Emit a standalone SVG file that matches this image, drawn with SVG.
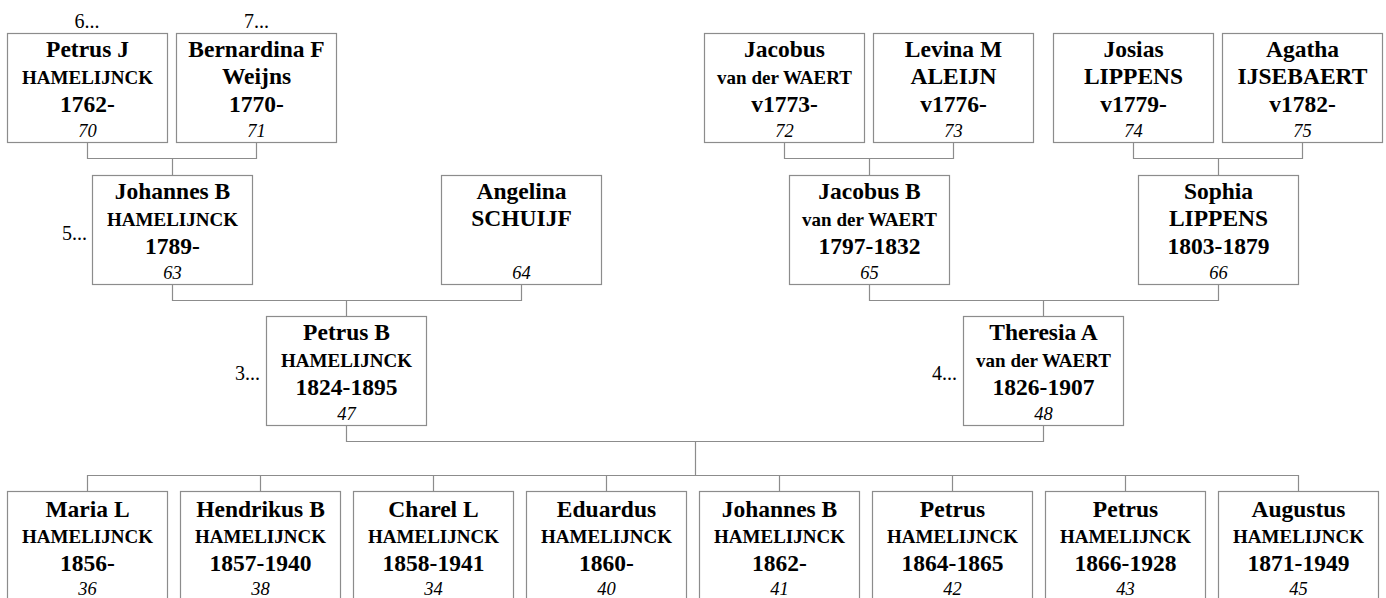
<svg xmlns="http://www.w3.org/2000/svg" width="1386" height="598" viewBox="0 0 1386 598">
<defs>
<style>
.box{fill:#fff;stroke:#8c8c8c;stroke-width:1.2}
.ln{fill:none;stroke:#8c8c8c;stroke-width:1.2}
</style>
</defs>
<rect width="1386" height="598" fill="#fff"/>
<g id="connectors">
<path class="ln" d="M87.5,142.5V158.5H256.5V142.5M172.5,158.5V175.5"/>
<path class="ln" d="M784.5,142.5V158.5H953.5V142.5M869.5,158.5V175.5"/>
<path class="ln" d="M1133.5,142.5V158.5H1302.5V142.5M1218.5,158.5V175.5"/>
<path class="ln" d="M172.5,284.5V300.5H521.5V284.5M346.5,300.5V316.5"/>
<path class="ln" d="M869.5,284.5V300.5H1218.5V284.5M1043.5,300.5V316.5"/>
<path class="ln" d="M346.5,425.5V441.5H1043.5V425.5M695.5,441.5V475.5"/>
<path class="ln" d="M87.5,491.5V475.5H1298.5V491.5M260.5,475.5V491.5M433.5,475.5V491.5M606.5,475.5V491.5M779.5,475.5V491.5M952.5,475.5V491.5M1125.5,475.5V491.5"/>
</g>
<g id="labels">
<text font-family="Liberation Serif" font-size="20" text-anchor="middle" x="87" y="28">6...</text>
<text font-family="Liberation Serif" font-size="20" text-anchor="middle" x="256.5" y="28">7...</text>
<text font-family="Liberation Serif" font-size="20" text-anchor="end" x="87" y="240">5...</text>
<text font-family="Liberation Serif" font-size="20" text-anchor="end" x="260" y="380">3...</text>
<text font-family="Liberation Serif" font-size="20" text-anchor="end" x="957" y="380">4...</text>
</g>
<g id="n70"><rect class="box" x="7.5" y="33.5" width="160" height="109"/><text font-family="Liberation Serif" text-anchor="middle" font-weight="bold" font-size="23.5" x="87.5" y="57">Petrus J</text><text font-family="Liberation Serif" text-anchor="middle" font-weight="bold" font-size="19" x="87.5" y="84">HAMELIJNCK</text><text font-family="Liberation Serif" text-anchor="middle" font-weight="bold" font-size="23.5" x="87.5" y="111.5">1762-</text><text font-family="Liberation Serif" text-anchor="middle" font-style="italic" font-size="18.5" x="87.5" y="137">70</text></g>
<g id="n71"><rect class="box" x="176.5" y="33.5" width="160" height="109"/><text font-family="Liberation Serif" text-anchor="middle" font-weight="bold" font-size="23.5" x="256.5" y="57">Bernardina F</text><text font-family="Liberation Serif" text-anchor="middle" font-weight="bold" font-size="23.5" x="256.5" y="84">Weijns</text><text font-family="Liberation Serif" text-anchor="middle" font-weight="bold" font-size="23.5" x="256.5" y="111.5">1770-</text><text font-family="Liberation Serif" text-anchor="middle" font-style="italic" font-size="18.5" x="256.5" y="137">71</text></g>
<g id="n72"><rect class="box" x="704.5" y="33.5" width="160" height="109"/><text font-family="Liberation Serif" text-anchor="middle" font-weight="bold" font-size="23.5" x="784.5" y="57">Jacobus</text><text font-family="Liberation Serif" text-anchor="middle" font-weight="bold" font-size="19" x="784.5" y="84">van der WAERT</text><text font-family="Liberation Serif" text-anchor="middle" font-weight="bold" font-size="23.5" x="784.5" y="111.5">v1773-</text><text font-family="Liberation Serif" text-anchor="middle" font-style="italic" font-size="18.5" x="784.5" y="137">72</text></g>
<g id="n73"><rect class="box" x="873.5" y="33.5" width="160" height="109"/><text font-family="Liberation Serif" text-anchor="middle" font-weight="bold" font-size="23.5" x="953.5" y="57">Levina M</text><text font-family="Liberation Serif" text-anchor="middle" font-weight="bold" font-size="23.5" x="953.5" y="84">ALEIJN</text><text font-family="Liberation Serif" text-anchor="middle" font-weight="bold" font-size="23.5" x="953.5" y="111.5">v1776-</text><text font-family="Liberation Serif" text-anchor="middle" font-style="italic" font-size="18.5" x="953.5" y="137">73</text></g>
<g id="n74"><rect class="box" x="1053.5" y="33.5" width="160" height="109"/><text font-family="Liberation Serif" text-anchor="middle" font-weight="bold" font-size="23.5" x="1133.5" y="57">Josias</text><text font-family="Liberation Serif" text-anchor="middle" font-weight="bold" font-size="23.5" x="1133.5" y="84">LIPPENS</text><text font-family="Liberation Serif" text-anchor="middle" font-weight="bold" font-size="23.5" x="1133.5" y="111.5">v1779-</text><text font-family="Liberation Serif" text-anchor="middle" font-style="italic" font-size="18.5" x="1133.5" y="137">74</text></g>
<g id="n75"><rect class="box" x="1222.5" y="33.5" width="160" height="109"/><text font-family="Liberation Serif" text-anchor="middle" font-weight="bold" font-size="23.5" x="1302.5" y="57">Agatha</text><text font-family="Liberation Serif" text-anchor="middle" font-weight="bold" font-size="23.5" x="1302.5" y="84">IJSEBAERT</text><text font-family="Liberation Serif" text-anchor="middle" font-weight="bold" font-size="23.5" x="1302.5" y="111.5">v1782-</text><text font-family="Liberation Serif" text-anchor="middle" font-style="italic" font-size="18.5" x="1302.5" y="137">75</text></g>
<g id="n63"><rect class="box" x="92.5" y="175.5" width="160" height="109"/><text font-family="Liberation Serif" text-anchor="middle" font-weight="bold" font-size="23.5" x="172.5" y="199">Johannes B</text><text font-family="Liberation Serif" text-anchor="middle" font-weight="bold" font-size="19" x="172.5" y="226">HAMELIJNCK</text><text font-family="Liberation Serif" text-anchor="middle" font-weight="bold" font-size="23.5" x="172.5" y="253.5">1789-</text><text font-family="Liberation Serif" text-anchor="middle" font-style="italic" font-size="18.5" x="172.5" y="279">63</text></g>
<g id="n64"><rect class="box" x="441.5" y="175.5" width="160" height="109"/><text font-family="Liberation Serif" text-anchor="middle" font-weight="bold" font-size="23.5" x="521.5" y="199">Angelina</text><text font-family="Liberation Serif" text-anchor="middle" font-weight="bold" font-size="23.5" x="521.5" y="226">SCHUIJF</text><text font-family="Liberation Serif" text-anchor="middle" font-style="italic" font-size="18.5" x="521.5" y="279">64</text></g>
<g id="n65"><rect class="box" x="789.5" y="175.5" width="160" height="109"/><text font-family="Liberation Serif" text-anchor="middle" font-weight="bold" font-size="23.5" x="869.5" y="199">Jacobus B</text><text font-family="Liberation Serif" text-anchor="middle" font-weight="bold" font-size="19" x="869.5" y="226">van der WAERT</text><text font-family="Liberation Serif" text-anchor="middle" font-weight="bold" font-size="23.5" x="869.5" y="253.5">1797-1832</text><text font-family="Liberation Serif" text-anchor="middle" font-style="italic" font-size="18.5" x="869.5" y="279">65</text></g>
<g id="n66"><rect class="box" x="1138.5" y="175.5" width="160" height="109"/><text font-family="Liberation Serif" text-anchor="middle" font-weight="bold" font-size="23.5" x="1218.5" y="199">Sophia</text><text font-family="Liberation Serif" text-anchor="middle" font-weight="bold" font-size="23.5" x="1218.5" y="226">LIPPENS</text><text font-family="Liberation Serif" text-anchor="middle" font-weight="bold" font-size="23.5" x="1218.5" y="253.5">1803-1879</text><text font-family="Liberation Serif" text-anchor="middle" font-style="italic" font-size="18.5" x="1218.5" y="279">66</text></g>
<g id="n47"><rect class="box" x="266.5" y="316.5" width="160" height="109"/><text font-family="Liberation Serif" text-anchor="middle" font-weight="bold" font-size="23.5" x="346.5" y="340">Petrus B</text><text font-family="Liberation Serif" text-anchor="middle" font-weight="bold" font-size="19" x="346.5" y="367">HAMELIJNCK</text><text font-family="Liberation Serif" text-anchor="middle" font-weight="bold" font-size="23.5" x="346.5" y="394.5">1824-1895</text><text font-family="Liberation Serif" text-anchor="middle" font-style="italic" font-size="18.5" x="346.5" y="420">47</text></g>
<g id="n48"><rect class="box" x="963.5" y="316.5" width="160" height="109"/><text font-family="Liberation Serif" text-anchor="middle" font-weight="bold" font-size="23.5" x="1043.5" y="340">Theresia A</text><text font-family="Liberation Serif" text-anchor="middle" font-weight="bold" font-size="19" x="1043.5" y="367">van der WAERT</text><text font-family="Liberation Serif" text-anchor="middle" font-weight="bold" font-size="23.5" x="1043.5" y="394.5">1826-1907</text><text font-family="Liberation Serif" text-anchor="middle" font-style="italic" font-size="18.5" x="1043.5" y="420">48</text></g>
<g id="n36"><rect class="box" x="7.5" y="491.5" width="160" height="109"/><text font-family="Liberation Serif" text-anchor="middle" font-weight="bold" font-size="23.5" x="87.5" y="517">Maria L</text><text font-family="Liberation Serif" text-anchor="middle" font-weight="bold" font-size="19" x="87.5" y="543">HAMELIJNCK</text><text font-family="Liberation Serif" text-anchor="middle" font-weight="bold" font-size="23.5" x="87.5" y="570.5">1856-</text><text font-family="Liberation Serif" text-anchor="middle" font-style="italic" font-size="18.5" x="87.5" y="595">36</text></g>
<g id="n38"><rect class="box" x="180.5" y="491.5" width="160" height="109"/><text font-family="Liberation Serif" text-anchor="middle" font-weight="bold" font-size="23.5" x="260.5" y="517">Hendrikus B</text><text font-family="Liberation Serif" text-anchor="middle" font-weight="bold" font-size="19" x="260.5" y="543">HAMELIJNCK</text><text font-family="Liberation Serif" text-anchor="middle" font-weight="bold" font-size="23.5" x="260.5" y="570.5">1857-1940</text><text font-family="Liberation Serif" text-anchor="middle" font-style="italic" font-size="18.5" x="260.5" y="595">38</text></g>
<g id="n34"><rect class="box" x="353.5" y="491.5" width="160" height="109"/><text font-family="Liberation Serif" text-anchor="middle" font-weight="bold" font-size="23.5" x="433.5" y="517">Charel L</text><text font-family="Liberation Serif" text-anchor="middle" font-weight="bold" font-size="19" x="433.5" y="543">HAMELIJNCK</text><text font-family="Liberation Serif" text-anchor="middle" font-weight="bold" font-size="23.5" x="433.5" y="570.5">1858-1941</text><text font-family="Liberation Serif" text-anchor="middle" font-style="italic" font-size="18.5" x="433.5" y="595">34</text></g>
<g id="n40"><rect class="box" x="526.5" y="491.5" width="160" height="109"/><text font-family="Liberation Serif" text-anchor="middle" font-weight="bold" font-size="23.5" x="606.5" y="517">Eduardus</text><text font-family="Liberation Serif" text-anchor="middle" font-weight="bold" font-size="19" x="606.5" y="543">HAMELIJNCK</text><text font-family="Liberation Serif" text-anchor="middle" font-weight="bold" font-size="23.5" x="606.5" y="570.5">1860-</text><text font-family="Liberation Serif" text-anchor="middle" font-style="italic" font-size="18.5" x="606.5" y="595">40</text></g>
<g id="n41"><rect class="box" x="699.5" y="491.5" width="160" height="109"/><text font-family="Liberation Serif" text-anchor="middle" font-weight="bold" font-size="23.5" x="779.5" y="517">Johannes B</text><text font-family="Liberation Serif" text-anchor="middle" font-weight="bold" font-size="19" x="779.5" y="543">HAMELIJNCK</text><text font-family="Liberation Serif" text-anchor="middle" font-weight="bold" font-size="23.5" x="779.5" y="570.5">1862-</text><text font-family="Liberation Serif" text-anchor="middle" font-style="italic" font-size="18.5" x="779.5" y="595">41</text></g>
<g id="n42"><rect class="box" x="872.5" y="491.5" width="160" height="109"/><text font-family="Liberation Serif" text-anchor="middle" font-weight="bold" font-size="23.5" x="952.5" y="517">Petrus</text><text font-family="Liberation Serif" text-anchor="middle" font-weight="bold" font-size="19" x="952.5" y="543">HAMELIJNCK</text><text font-family="Liberation Serif" text-anchor="middle" font-weight="bold" font-size="23.5" x="952.5" y="570.5">1864-1865</text><text font-family="Liberation Serif" text-anchor="middle" font-style="italic" font-size="18.5" x="952.5" y="595">42</text></g>
<g id="n43"><rect class="box" x="1045.5" y="491.5" width="160" height="109"/><text font-family="Liberation Serif" text-anchor="middle" font-weight="bold" font-size="23.5" x="1125.5" y="517">Petrus</text><text font-family="Liberation Serif" text-anchor="middle" font-weight="bold" font-size="19" x="1125.5" y="543">HAMELIJNCK</text><text font-family="Liberation Serif" text-anchor="middle" font-weight="bold" font-size="23.5" x="1125.5" y="570.5">1866-1928</text><text font-family="Liberation Serif" text-anchor="middle" font-style="italic" font-size="18.5" x="1125.5" y="595">43</text></g>
<g id="n45"><rect class="box" x="1218.5" y="491.5" width="160" height="109"/><text font-family="Liberation Serif" text-anchor="middle" font-weight="bold" font-size="23.5" x="1298.5" y="517">Augustus</text><text font-family="Liberation Serif" text-anchor="middle" font-weight="bold" font-size="19" x="1298.5" y="543">HAMELIJNCK</text><text font-family="Liberation Serif" text-anchor="middle" font-weight="bold" font-size="23.5" x="1298.5" y="570.5">1871-1949</text><text font-family="Liberation Serif" text-anchor="middle" font-style="italic" font-size="18.5" x="1298.5" y="595">45</text></g>
</svg>
